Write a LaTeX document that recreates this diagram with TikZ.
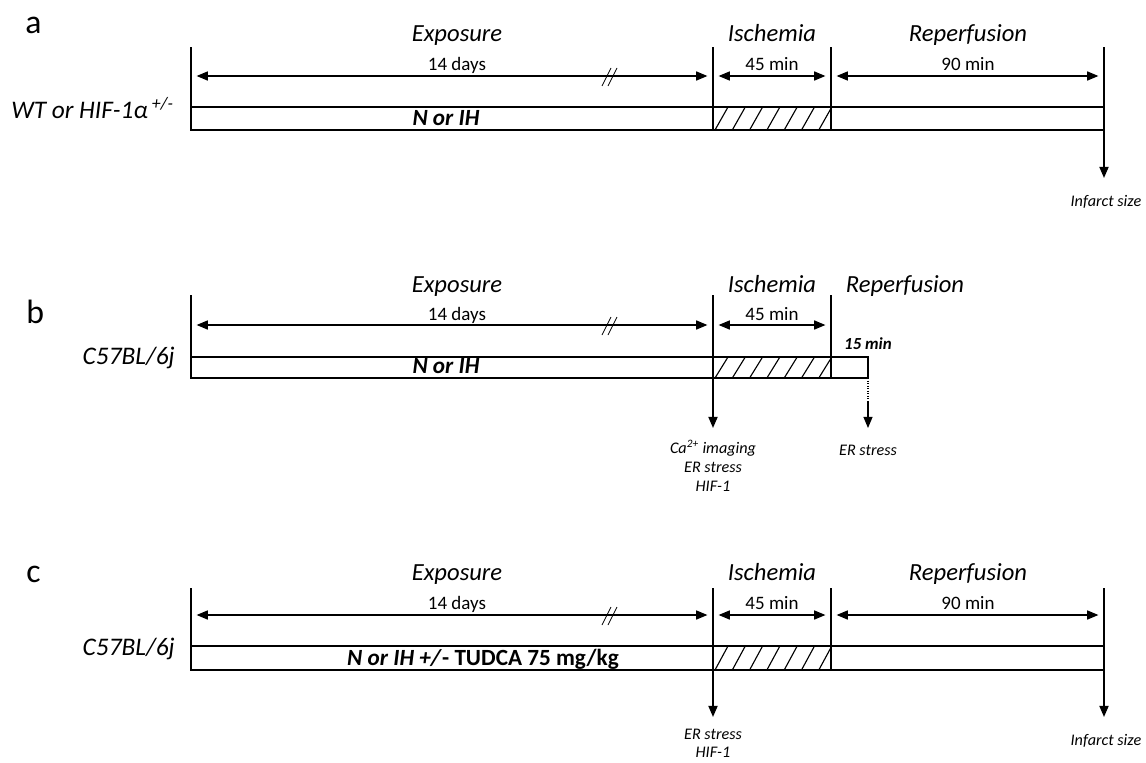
\documentclass[tikz,border=0pt]{standalone}
\usepackage{fontspec}
\setmainfont{Carlito}
\usetikzlibrary{arrows.meta}

\tikzset{
  panel/.style={font=\fontsize{24}{28}\selectfont, anchor=base west, inner sep=0pt},
  head/.style={font=\itshape\fontsize{17.5}{20}\selectfont, anchor=base, inner sep=0pt},
  span/.style={font=\fontsize{13.5}{16}\selectfont, anchor=base, inner sep=0pt},
  strain/.style={font=\itshape\fontsize{18}{21}\selectfont, anchor=base east, inner sep=0pt},
  group/.style={font=\bfseries\fontsize{16.5}{19}\selectfont, anchor=base, inner sep=0pt},
  readout/.style={font=\itshape\fontsize{11.5}{13.5}\selectfont, align=center, inner sep=0pt},
  bar/.style={line width=1.3pt},
  tick/.style={line width=1.3pt},
  dimline/.style={<->, line width=0.8pt, shorten <=4pt, shorten >=4pt},
  breakmark/.style={line width=0.6pt},
  hatch/.style={line width=0.8pt},
}

\begin{document}
\begin{tikzpicture}[x=0.025cm, y=-0.025cm, >={Triangle[length=8pt,width=6.5pt]}]
  \useasboundingbox (0,0) rectangle (1146,763);

  % x positions shared by the three panels
  \coordinate (x0) at (191,0);   % start of exposure
  \coordinate (x1) at (713,0);   % start of ischemia
  \coordinate (x2) at (831,0);   % start of reperfusion
  \coordinate (x3) at (1104,0);  % end of 90 min reperfusion
  \coordinate (x4) at (868,0);   % end of 15 min reperfusion
  \coordinate (xb) at (610,0);   % break in the 14 days

  % ---------------- panel a ----------------
  \coordinate (a-top) at (0,47);
  \coordinate (a-dim) at (0,76);
  \coordinate (a-bar) at (0,107);
  \coordinate (a-bot) at (0,130);
  \coordinate (a-out) at (0,178);

  \node[panel] (a-tag) at (25,33) {a};
  \node[head] (a-exp) at (457,41) {Exposure};
  \node[head] (a-isc) at (772,41) {Ischemia};
  \node[head] (a-rep) at (968,41) {Reperfusion};
  \node[span] (a-d1) at (457,70) {14 days};
  \node[span] (a-d2) at (772,70) {45 min};
  \node[span] (a-d3) at (968,70) {90 min};
  \node[strain] (a-str) at (174,118) {WT or HIF-1α\textsuperscript{~+/-}};

  % hatched ischemia
  \begin{scope}
    \clip (x1 |- a-bar) rectangle (x2 |- a-bot);
    \foreach \i in {0,...,6}
      \draw[hatch] (715+17.3*\i,130) -- ++(13,-23);
  \end{scope}
  \draw[bar] (x0 |- a-bar) rectangle (x3 |- a-bot);
  \node[group] (a-grp) at (446,125) {\itshape N or IH};

  \draw[tick] (x0 |- a-top) -- (x0 |- a-bot);
  \draw[tick] (x1 |- a-top) -- (x1 |- a-bot);
  \draw[tick] (x2 |- a-top) -- (x2 |- a-bot);
  \draw[tick, ->] (x3 |- a-top) -- (x3 |- a-out);

  \draw[dimline] (x0 |- a-dim) -- (x1 |- a-dim);
  \draw[dimline] (x1 |- a-dim) -- (x2 |- a-dim);
  \draw[dimline] (x2 |- a-dim) -- (x3 |- a-dim);
  \draw[breakmark] (xb |- a-dim) ++(-8,10) -- ++(9,-18) ++(-3,18) -- ++(9,-18);

  \node[readout, anchor=base] (a-inf) at (1106,206) {Infarct size};

  % ---------------- panel b ----------------
  \coordinate (b-top) at (0,295);
  \coordinate (b-dim) at (0,325);
  \coordinate (b-bar) at (0,357);
  \coordinate (b-bot) at (0,378);
  \coordinate (b-dot) at (0,402);
  \coordinate (b-out) at (0,428);

  \node[panel] (b-tag) at (26,323) {b};
  \node[head] (b-exp) at (457,292) {Exposure};
  \node[head] (b-isc) at (772,292) {Ischemia};
  \node[head] (b-rep) at (905,292) {Reperfusion};
  \node[span] (b-d1) at (457,320) {14 days};
  \node[span] (b-d2) at (772,320) {45 min};
  \node[group, font=\bfseries\itshape\fontsize{12}{14}\selectfont] (b-d3) at (868,349) {15 min};
  \node[strain] (b-str) at (175,364) {C57BL/6j};

  % hatched ischemia
  \begin{scope}
    \clip (x1 |- b-bar) rectangle (x2 |- b-bot);
    \foreach \i in {0,...,6}
      \draw[hatch] (715+17.3*\i,378) -- ++(13,-21);
  \end{scope}
  \draw[bar] (x0 |- b-bar) rectangle (x4 |- b-bot);
  \node[group] (b-grp) at (446,373) {\itshape N or IH};

  \draw[tick] (x0 |- b-top) -- (x0 |- b-bot);
  \draw[tick, ->] (x1 |- b-top) -- (x1 |- b-out);
  \draw[tick] (x2 |- b-top) -- (x2 |- b-bot);
  \draw[line width=0.8pt, densely dotted] (x4 |- b-bot) -- (x4 |- b-dot);
  \draw[line width=0.8pt, ->] (x4 |- b-dot) -- (x4 |- b-out);

  \draw[dimline] (x0 |- b-dim) -- (x1 |- b-dim);
  \draw[dimline] (x1 |- b-dim) -- (x2 |- b-dim);
  \draw[breakmark] (xb |- b-dim) ++(-8,10) -- ++(9,-18) ++(-3,18) -- ++(9,-18);

  \node[readout, anchor=north] (b-ca) at (713,440) {Ca\textsuperscript{2+} imaging\\ER stress\\HIF-1};
  \node[readout, anchor=base] (b-er) at (868,455) {ER stress};

  % ---------------- panel c ----------------
  \coordinate (c-top) at (0,588);
  \coordinate (c-dim) at (0,615);
  \coordinate (c-bar) at (0,646);
  \coordinate (c-bot) at (0,670);
  \coordinate (c-out) at (0,717);

  \node[panel] (c-tag) at (26,582) {c};
  \node[head] (c-exp) at (457,580) {Exposure};
  \node[head] (c-isc) at (772,580) {Ischemia};
  \node[head] (c-rep) at (968,580) {Reperfusion};
  \node[span] (c-d1) at (457,609) {14 days};
  \node[span] (c-d2) at (772,609) {45 min};
  \node[span] (c-d3) at (968,609) {90 min};
  \node[strain] (c-str) at (175,655) {C57BL/6j};

  % hatched ischemia
  \begin{scope}
    \clip (x1 |- c-bar) rectangle (x2 |- c-bot);
    \foreach \i in {0,...,6}
      \draw[hatch] (715+17.3*\i,670) -- ++(13,-24);
  \end{scope}
  \draw[bar] (x0 |- c-bar) rectangle (x3 |- c-bot);
  \node[group] (c-grp) at (483,665) {\textit{N or IH +/}- TUDCA 75 mg/kg};

  \draw[tick] (x0 |- c-top) -- (x0 |- c-bot);
  \draw[tick, ->] (x1 |- c-top) -- (x1 |- c-out);
  \draw[tick] (x2 |- c-top) -- (x2 |- c-bot);
  \draw[tick, ->] (x3 |- c-top) -- (x3 |- c-out);

  \draw[dimline] (x0 |- c-dim) -- (x1 |- c-dim);
  \draw[dimline] (x1 |- c-dim) -- (x2 |- c-dim);
  \draw[dimline] (x2 |- c-dim) -- (x3 |- c-dim);
  \draw[breakmark] (xb |- c-dim) ++(-8,10) -- ++(9,-18) ++(-3,18) -- ++(9,-18);

  \node[readout, anchor=south, font=\itshape\fontsize{11.5}{13}\selectfont] (c-er) at (713,758) {ER stress\\HIF-1};
  \node[readout, anchor=base] (c-inf) at (1106,745) {Infarct size};

\end{tikzpicture}
\end{document}
